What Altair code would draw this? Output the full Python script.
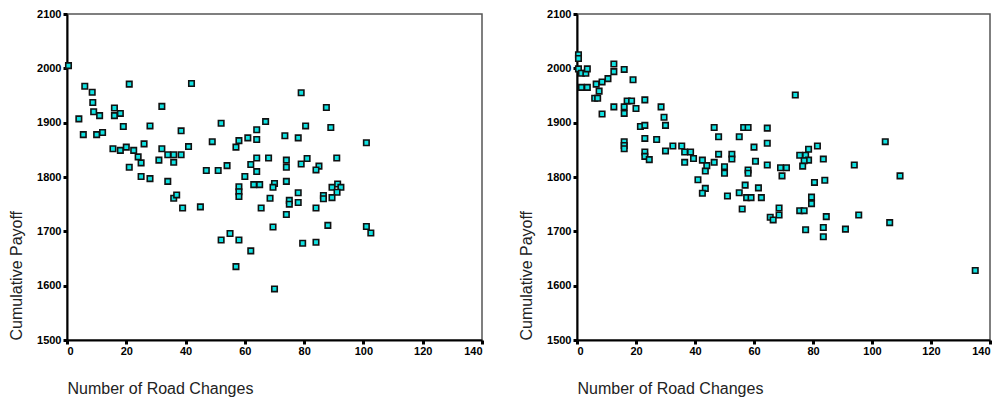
import altair as alt
import pandas as pd

# ---- data ----
left_changes = [0.5, 6, 8.5, 4, 5.5, 8.7, 9, 11, 10, 12,
                21, 16, 16, 18, 19, 15.5, 18, 20, 22.5, 21,
                24, 25, 26, 25, 28, 28, 32, 32, 31, 34, 36,
                34, 36, 38.5, 38.5, 42, 41, 36, 37, 47, 49,
                51, 52, 54, 57, 58, 61, 60, 58, 58, 58, 62,
                39, 45, 52, 55, 58, 57, 62,
                79, 87.5, 67, 64, 80.5, 89, 64, 73.5, 78, 101,
                64, 68, 64, 74, 74, 74, 81, 79, 85, 84, 91,
                63, 65, 70, 69.5, 78, 86.5, 86.5, 89.4, 91.3, 92.4, 91.1, 89.4,
                68.5, 75, 75, 78, 65.5, 74, 84,
                69.5, 88, 101, 102.5, 79.5, 84, 70]
left_payoff = [2005, 1967, 1956, 1907, 1878, 1937, 1920, 1913, 1878, 1882,
               1971, 1927, 1913, 1917, 1893, 1852, 1849, 1855, 1849, 1818,
               1837, 1826, 1861, 1801, 1797, 1894, 1930, 1852, 1831, 1841, 1841,
               1792, 1827, 1841, 1885, 1972, 1856, 1761, 1767, 1812, 1865,
               1812, 1899, 1821, 1855, 1867, 1872, 1801, 1782, 1773, 1764, 1823,
               1743, 1745, 1684, 1696, 1684, 1635, 1664,
               1955, 1928, 1902, 1887, 1894, 1891, 1869, 1876, 1872, 1863,
               1835, 1835, 1810, 1831, 1818, 1792, 1834, 1824, 1820, 1813, 1835,
               1786, 1786, 1788, 1781, 1771, 1766, 1760, 1781, 1787, 1781, 1772, 1762,
               1761, 1757, 1750, 1753, 1743, 1731, 1743,
               1708, 1711, 1709, 1697, 1678, 1680, 1594]

right_changes = [0.5, 0.5, 0.5, 1.5, 3, 3.5, 1.5, 3.5, 6.5, 8.5, 10.5,
                 12.5, 12.5, 16, 19, 6, 7, 7.5, 8.5, 12.5, 16, 16,
                 17, 18.5, 20, 23, 21.5, 23, 16, 16, 16, 23, 23, 23,
                 24.5, 27, 28.5, 29.5, 30, 30, 32.5, 35.5, 36.5, 36.5, 38.5,
                 39.5, 42.5, 43.5, 44, 41, 43.5, 42.5, 46.5, 48, 48, 46.5,
                 50, 50, 52.5, 52.5, 51, 55, 56.5, 58, 60, 58, 58, 60.5,
                 57, 55, 61.5, 57.5, 59, 62.5, 56,
                 74, 64.5, 64.5, 64.5, 69, 71, 69.5, 78.5, 81.5, 75.5, 77.5,
                 78.5, 77, 76.5, 83.5, 94, 104.5, 109.5, 80.5, 84, 79.5, 79.5,
                 75.5, 77, 68.5, 68.5, 65.5, 66.5, 77.5, 84.5, 83.5, 83.5, 91,
                 95.5, 106, 135]
right_payoff = [2025, 2018, 1999, 1991, 1991, 1999, 1965, 1965, 1971, 1975, 1981,
                2008, 1994, 1998, 1979, 1945, 1945, 1958, 1916, 1929, 1929, 1917,
                1940, 1940, 1926, 1942, 1893, 1895, 1865, 1858, 1852, 1871, 1846, 1838,
                1832, 1869, 1929, 1910, 1895, 1848, 1857, 1857, 1846, 1827, 1846,
                1834, 1831, 1811, 1821, 1795, 1779, 1770, 1891, 1874, 1842, 1827,
                1819, 1807, 1842, 1833, 1765, 1874, 1891, 1891, 1855, 1813, 1807, 1829,
                1785, 1771, 1780, 1762, 1762, 1762, 1741,
                1951, 1890, 1862, 1822, 1817, 1817, 1802, 1851, 1857, 1840, 1840,
                1831, 1830, 1820, 1833, 1822, 1865, 1802, 1790, 1794, 1763, 1751,
                1738, 1738, 1743, 1730, 1726, 1721, 1703, 1727, 1707, 1690, 1704,
                1730, 1716, 1628]

x_ticks = [0, 20, 40, 60, 80, 100, 120, 140]
y_ticks = [1500, 1600, 1700, 1800, 1900, 2000, 2100]

X_TITLE = "Number of Road Changes"
Y_TITLE = "Cumulative Payoff"

H = 326


def panel(xs, ys, w):
    df = pd.DataFrame({"changes": xs, "payoff": ys})
    return (
        alt.Chart(df)
        .mark_square(size=30, filled=True, fill="#10E2E2", stroke="#111111",
                     strokeWidth=1.6, opacity=1)
        .encode(
            x=alt.X("changes:Q",
                    scale=alt.Scale(domain=[0, 140], nice=False, zero=False),
                    axis=alt.Axis(values=x_ticks, format="d", title=X_TITLE,
                                  titleX=0, titleY=53,
                                  titleAlign="left", titleBaseline="alphabetic",
                                  labelPadding=1)),
            y=alt.Y("payoff:Q",
                    scale=alt.Scale(domain=[1500, 2100], nice=False, zero=False),
                    axis=alt.Axis(values=y_ticks, format="d", title=Y_TITLE,
                                  titleAngle=270, titleX=-46, titleY=H,
                                  titleAlign="left", titleBaseline="alphabetic",
                                  labelPadding=2)),
        )
        .properties(width=w, height=H)
    )


chart = (
    alt.hconcat(panel(left_changes, left_payoff, 415),
                panel(right_changes, right_payoff, 413), spacing=32)
    .properties(padding={"left": -1, "top": -1, "right": 0, "bottom": 0})
    .configure_view(stroke="#555555", strokeWidth=1.5)
    .configure_axis(domainColor="#000000", domainWidth=2, tickColor="#000000",
                    tickWidth=3, tickSize=4, grid=False,
                    labelFont="Liberation Sans", labelFontSize=11, labelFontWeight="bold",
                    labelColor="#000000", titleFont="Liberation Sans", titleFontSize=16,
                    titleFontWeight="normal", titleColor="#222222")
)

chart.save("out.html", embed_options={"renderer": "svg", "actions": False})
